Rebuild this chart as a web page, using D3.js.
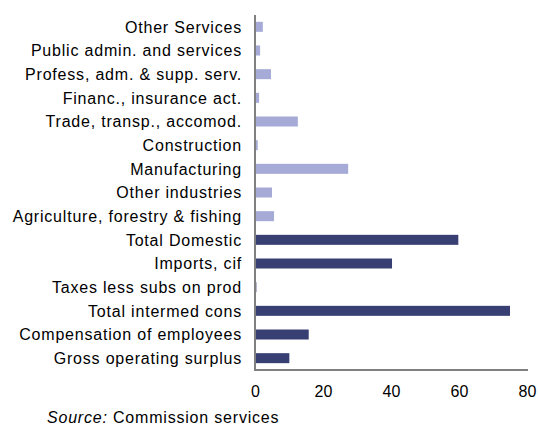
<!DOCTYPE html>
<html>
<head>
<meta charset="utf-8">
<script src="https://cdn.jsdelivr.net/npm/d3@7"></script>
<style>
  html, body { margin: 0; padding: 0; background: #fff; }
  svg { display: block; font-family: Arial, "Liberation Sans", sans-serif; }
</style>
</head>
<body>
<svg id="chart" width="538" height="426"></svg>
<script>
const categories = [
  "Other Services",
  "Public admin. and services",
  "Profess, adm. & supp. serv.",
  "Financ., insurance act.",
  "Trade, transp., accomod.",
  "Construction",
  "Manufacturing",
  "Other industries",
  "Agriculture, forestry & fishing",
  "Total Domestic",
  "Imports, cif",
  "Taxes less subs on prod",
  "Total intermed cons",
  "Compensation of employees",
  "Gross operating surplus"
];
const values = [2.3, 1.5, 4.7, 1.2, 12.6, 0.8, 27.4, 5.0, 5.6, 59.8, 40.3, 0.4, 75.0, 15.8, 10.1];
const groups = ["sector","sector","sector","sector","sector","sector","sector","sector","sector",
                "total","total","total","total","total","total"];
const xTicks = [0, 20, 40, 60, 80];
const sourceLabel = "Source:";
const sourceText = " Commission services";

const svg = d3.select("#chart");
const mLeft = 255, mRight = 527, mTop = 15, mBottom = 370;

const x = d3.scaleLinear().domain([0, 80]).range([mLeft, mRight]);
const y = d3.scaleBand().domain(categories).range([mTop, mBottom])
  .paddingInner(0.5775).paddingOuter(0.5775 / 2);
const color = d3.scaleOrdinal().domain(["sector", "total"]).range(["#a5aad7", "#373f73"]);

const data = categories.map((c, i) => ({ c, v: values[i], g: groups[i] }));

svg.append("g").selectAll("rect").data(data).join("rect")
  .attr("x", x(0))
  .attr("y", d => y(d.c))
  .attr("width", d => x(d.v) - x(0))
  .attr("height", y.bandwidth())
  .attr("fill", d => color(d.g));

// category labels
svg.append("g").selectAll("text").data(data).join("text")
  .attr("x", 242)
  .attr("y", d => y(d.c) + y.bandwidth() / 2)
  .attr("dy", "0.36em")
  .attr("text-anchor", "end")
  .style("font-size", "16px")
  .style("letter-spacing", "0.8px")
  .attr("fill", "#000")
  .text(d => d.c);

// axes lines
svg.append("line")
  .attr("x1", x(0)).attr("x2", x(0)).attr("y1", mTop).attr("y2", mBottom + 1)
  .attr("stroke", "#808080").attr("stroke-width", 2);
svg.append("line")
  .attr("x1", x(0) - 1).attr("x2", x(80) + 1).attr("y1", mBottom).attr("y2", mBottom)
  .attr("stroke", "#808080").attr("stroke-width", 2);

// x tick labels
const xAxis = d3.axisBottom(x).tickValues(xTicks).tickSize(0).tickPadding(0).tickFormat(d3.format("d"));
const gx = svg.append("g").attr("transform", `translate(0,${mBottom})`).call(xAxis);
gx.select(".domain").remove();
gx.selectAll("text")
  .attr("y", 27)
  .attr("dy", 0)
  .style("font-size", "16px")
  .style("font-family", "Arial, 'Liberation Sans', sans-serif")
  .attr("fill", "#000");

// source
const src = svg.append("text").attr("x", 47).attr("y", 423)
  .style("font-size", "16px").style("letter-spacing", "0.8px").attr("fill", "#000");
src.append("tspan").style("font-style", "italic").text(sourceLabel);
src.append("tspan").text(sourceText);
</script>
</body>
</html>
